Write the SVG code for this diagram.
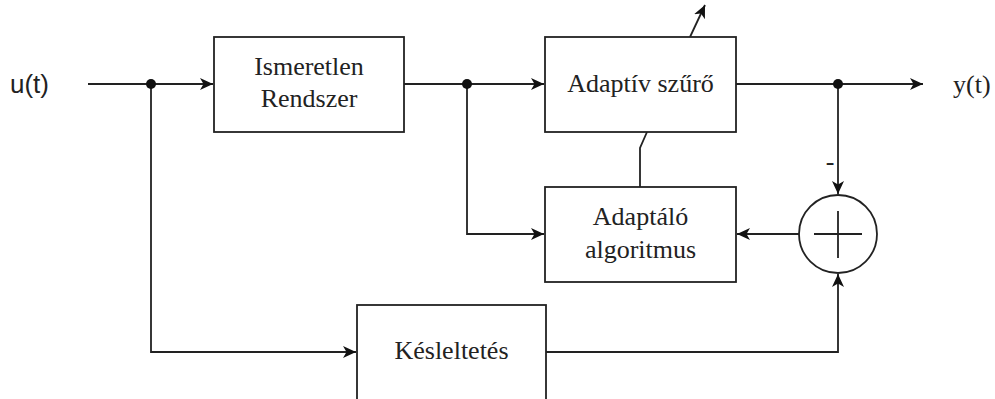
<svg xmlns="http://www.w3.org/2000/svg" width="995" height="399" viewBox="0 0 995 399">
  <style>
    .box { fill: #ffffff; stroke: #222222; stroke-width: 1.8; }
    .wire { fill: none; stroke: #222222; stroke-width: 1.8; }
    .dot { fill: #111111; }
    .lbl { font-family: "Liberation Serif", "Times New Roman", serif; font-size: 26px; fill: #222222; text-anchor: middle; }
    .sans { font-family: "Liberation Sans", Arial, sans-serif; font-size: 26px; fill: #222222; }
    .serif { font-family: "Liberation Serif", "Times New Roman", serif; font-size: 26px; fill: #222222; }
  </style>
  <defs>
    <marker id="arrow" markerUnits="userSpaceOnUse" markerWidth="16" markerHeight="14" refX="13" refY="7" orient="auto">
      <path d="M0,1 L13,7 L0,13 L3.5,7 z" fill="#111111"/>
    </marker>
  </defs>
  <rect width="995" height="399" fill="#ffffff"/>

  <!-- connectors -->
  <g id="connectors">
    <path class="wire" d="M88,84 H213" marker-end="url(#arrow)"/>
    <path class="wire" d="M151,84 V352 H356" marker-end="url(#arrow)"/>
    <path class="wire" d="M404,84 H544" marker-end="url(#arrow)"/>
    <path class="wire" d="M467,84 V234 H544" marker-end="url(#arrow)"/>
    <path class="wire" d="M690,37 L705,5" marker-end="url(#arrow)"/>
    <path class="wire" d="M647,132 L640,148 V187"/>
    <path class="wire" d="M736,84 H923" marker-end="url(#arrow)"/>
    <path class="wire" d="M838,84 V194" marker-end="url(#arrow)"/>
    <path class="wire" d="M799,234 H737" marker-end="url(#arrow)"/>
    <path class="wire" d="M546,352 H838 V274" marker-end="url(#arrow)"/>
    <circle class="dot" cx="151" cy="84" r="5"/>
    <circle class="dot" cx="467" cy="84" r="5"/>
    <circle class="dot" cx="838" cy="84" r="5"/>
    <text x="830" y="170" class="lbl">-</text>
  </g>

  <!-- signals -->
  <g id="input">
    <text x="10" y="93" class="sans">u(t)</text>
  </g>
  <g id="output">
    <text x="953" y="93" class="serif">y(t)</text>
  </g>

  <!-- blocks -->
  <g id="unknown-system">
    <rect class="box" x="214" y="37" width="190" height="95"/>
    <text class="lbl" x="309" y="75">Ismeretlen</text>
    <text class="lbl" x="309" y="107">Rendszer</text>
  </g>
  <g id="adaptive-filter">
    <rect class="box" x="545" y="37" width="191" height="95"/>
    <text class="lbl" x="640.5" y="92">Adaptív szűrő</text>
  </g>
  <g id="adaptation-algorithm">
    <rect class="box" x="545" y="187" width="191" height="95"/>
    <text class="lbl" x="640.5" y="225">Adaptáló</text>
    <text class="lbl" x="640.5" y="258">algoritmus</text>
  </g>
  <g id="summer">
    <circle class="box" cx="838" cy="234" r="39"/>
    <path class="wire" d="M814,234 H862 M838,211 V258"/>
  </g>
  <g id="delay">
    <rect class="box" x="357" y="305" width="189" height="98"/>
    <text class="lbl" x="451.5" y="359">Késleltetés</text>
  </g>
</svg>
